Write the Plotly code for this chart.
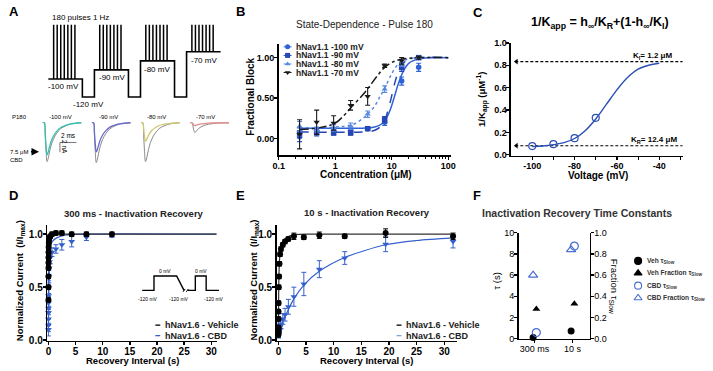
import plotly.graph_objects as go

W, H = 713, 371
FONT = "Liberation Sans, Arial, sans-serif"

# ---------------- Panel A (protocol + example traces) ----------------
hold_levels_mV = [-100, -90, -80, -70]
gap_level_mV = -120
pulse_top_mV = -40          # pulses drawn truncated
pulses_shown = 7
hold_s = 9.6
gap_s = 3.4
first_pulse_s = 1.5
pulse_interval_s = 1.0

trace_labels = ["-100 mV", "-90 mV", "-80 mV", "-70 mV"]
control_peak_nA = [8.0, 8.2, 8.0, 2.0]
cbd_peak_nA = [6.6, 6.0, 3.8, 0.6]
cbd_colors = ["#39c0ab", "#6b6bc9", "#cfc870", "#e68a8a"]
trace_spacing_ms = 6.0
wave_t_ms = [0, 0.2, 0.3, 0.4, 0.53, 0.65, 0.8, 1.0, 1.3, 1.7, 2.2, 2.8, 3.5, 4.7]
wave_frac = [0, 0, 0.3, 0.7, 1.0, 0.93, 0.78, 0.6, 0.42, 0.27, 0.15, 0.08, 0.03, 0]
scale_ms = 2
scale_nA = 2

# ---------------- Panel B ----------------
conc = [0.234, 0.469, 0.9375, 1.875, 3.75, 7.5, 15, 30]
block_100 = [0.02, 0.09, 0.09, 0.10, 0.12, 0.20, 0.71, 0.88]
err_100 = [0.06, 0.04, 0.04, 0.05, 0.02, 0.04, 0.05, 0.05]
block_90 = [0.07, 0.07, 0.07, 0.07, 0.12, 0.23, 0.88, 1.0]
err_90 = [0.06, 0.04, 0.03, 0.03, 0.02, 0.04, 0.05, 0.02]
block_80 = [0.15, 0.11, 0.13, 0.15, 0.30, 0.61, 0.92, 1.0]
err_80 = [0.06, 0.03, 0.04, 0.04, 0.04, 0.04, 0.03, 0.02]
block_70 = [0.05, 0.20, 0.19, 0.41, 0.52, 0.90, 0.96, 1.0]
err_70 = [0.18, 0.15, 0.09, 0.06, 0.11, 0.02, 0.04, 0.02]

fit_c_100 = [0.234, 1, 3, 5, 7, 9, 11, 13, 16, 20, 30, 50, 100]
fit_b_100 = [0.125, 0.125, 0.126, 0.14, 0.19, 0.32, 0.5, 0.67, 0.83, 0.93, 0.985, 1.0, 1.0]
fit_c_90 = [0.234, 3, 5, 7, 9, 11, 13, 16, 20, 30, 100]
fit_b_90 = [0.08, 0.08, 0.1, 0.18, 0.4, 0.65, 0.82, 0.93, 0.98, 1.0, 1.0]
fit_c_80 = [0.234, 1, 2, 3, 3.75, 5, 6, 7.5, 10, 13, 17, 25, 100]
fit_b_80 = [0.13, 0.14, 0.17, 0.24, 0.3, 0.4, 0.5, 0.62, 0.8, 0.92, 0.97, 0.995, 1.0]
fit_c_70 = [0.234, 0.5, 1, 1.5, 2, 3, 4, 5.5, 7.5, 10, 15, 30, 100]
fit_b_70 = [0.11, 0.13, 0.19, 0.3, 0.4, 0.53, 0.64, 0.77, 0.88, 0.94, 0.98, 1.0, 1.0]

# ---------------- Panel C ----------------
volt = [-100, -90, -80, -70]
inv_kapp = [0.077, 0.094, 0.148, 0.33]
fit_volt = [-100, -95, -90, -85, -80, -75, -70, -65, -60, -55, -50, -45, -40]
fit_inv = [0.072, 0.078, 0.09, 0.108, 0.145, 0.215, 0.32, 0.45, 0.58, 0.69, 0.765, 0.80, 0.818]
K_I = 1.2
K_R = 12.4

# ---------------- Panel D ----------------
t_D = [0.001, 0.002, 0.003, 0.005, 0.008, 0.013, 0.02, 0.04, 0.07, 0.12, 0.2, 0.35,
       0.65, 1.38, 2.47, 4.28, 7.0, 11.7]
veh_D = [0.38, 0.5, 0.6, 0.68, 0.73, 0.78, 0.83, 0.88, 0.92, 0.95, 0.97, 0.98,
         1.0, 1.01, 1.01, 1.0, 1.0, 1.0]
veh_D_err = [0.02] * 18
cbd_D = [0.1, 0.14, 0.2, 0.26, 0.3, 0.35, 0.42, 0.5, 0.6, 0.68, 0.74, 0.78,
         0.83, 0.86, 0.9, 0.93, 0.97, 0.99]
cbd_D_err = [0.06] * 12 + [0.04, 0.04, 0.05, 0.05, 0.03, 0.02]
fitD_veh_t = [0, 0.02, 0.05, 0.1, 0.2, 0.4, 1, 31]
fitD_veh_y = [0.4, 0.75, 0.9, 0.97, 0.995, 1.0, 1.0, 1.0]
fitD_cbd_t = [0, 0.05, 0.1, 0.2, 0.35, 0.7, 1.5, 3, 6, 31]
fitD_cbd_y = [0.1, 0.45, 0.65, 0.8, 0.88, 0.93, 0.965, 0.99, 1.0, 1.0]

# ---------------- Panel E ----------------
t_E = [0.001, 0.002, 0.003, 0.005, 0.008, 0.013, 0.02, 0.04, 0.07, 0.12, 0.2, 0.3,
       0.46, 0.8, 1.2, 1.8, 2.8, 4.6, 7.4, 12.0, 19.4, 31.6]
veh_E = [0.05, 0.06, 0.08, 0.1, 0.12, 0.2, 0.27, 0.35, 0.5, 0.6, 0.72, 0.81,
         0.86, 0.9, 0.93, 0.955, 0.98, 0.97, 0.99, 0.98, 1.01, 0.98]
veh_E_err = [0.02] * 16 + [0.03, 0.02, 0.03, 0.02, 0.04, 0.03]
cbd_E = [0.05, 0.06, 0.06, 0.07, 0.07, 0.08, 0.08, 0.09, 0.1, 0.11, 0.12, 0.13,
         0.15, 0.2, 0.24, 0.315, 0.41, 0.53, 0.67, 0.775, 0.905, 0.93]
cbd_E_err = [0.03] * 12 + [0.04, 0.05, 0.06, 0.07, 0.09, 0.11, 0.08, 0.06, 0.07, 0.06]
fitE_veh_t = [0, 0.05, 0.1, 0.2, 0.4, 0.8, 1.5, 3, 6, 31.6]
fitE_veh_y = [0.05, 0.45, 0.62, 0.76, 0.86, 0.93, 0.97, 0.995, 1.0, 1.0]
fitE_cbd_t = [0, 0.5, 1.2, 2.8, 4.6, 7.4, 12, 19.4, 25, 31.6]
fitE_cbd_y = [0.06, 0.13, 0.22, 0.39, 0.52, 0.65, 0.78, 0.9, 0.94, 0.965]

# inset protocol (D)
inset_levels_mV = [-120, 0, -120, 0, -120]
inset_durations = [12, 23, 19, 11, 13]

# ---------------- Panel F ----------------
f_cats = ["300 ms", "10 s"]
veh_tau = [0.12, 0.73]
veh_frac = [0.28, 0.33]
cbd_tau = [0.58, 8.74]
cbd_frac = [0.60, 0.84]

# ====================================================================
BLUE100, BLUE90, BLUE80, BLK = "#2f62d6", "#2546b5", "#5a88e0", "#1a1a1a"
CBD_BLUE = "#3560cc"


def xd(a, b):
    return [a / W, b / W]


def yd(top, bottom):
    return [1 - bottom / H, 1 - top / H]


def axstyle(**kw):
    base = dict(showline=True, linecolor="black", linewidth=1.6, ticks="outside",
                ticklen=3, tickwidth=1.4, tickcolor="black", showgrid=False,
                zeroline=False, mirror=False, fixedrange=True, ticklabelstandoff=-2,
                tickfont=dict(family=FONT, size=9, color="black", weight="bold"))
    base.update(kw)
    return base


def hidden(**kw):
    base = dict(visible=False, showgrid=False, zeroline=False, fixedrange=True,
                showticklabels=False, ticks="")
    base.update(kw)
    return base


anns = []


def ann(text, x, y, size=9, bold=False, xa="center", ya="middle", color="black", angle=0):
    anns.append(dict(text=text, x=x / W, y=1 - y / H, xref="paper", yref="paper",
                     showarrow=False, xanchor=xa, yanchor=ya, textangle=angle,
                     font=dict(family=FONT, size=size, color=color,
                               weight="bold" if bold else "normal")))


fig = go.Figure()

# ---------- A: protocol ----------
px_, py_ = [], []
pul_x, pul_y = [], []
for k, V in enumerate(hold_levels_mV):
    t0 = k * (hold_s + gap_s)
    if k > 0:
        px_.append(t0); py_.append(gap_level_mV)
    px_ += [t0, t0 + hold_s]; py_ += [V, V]
    if k < len(hold_levels_mV) - 1:
        px_ += [t0 + hold_s, t0 + hold_s + gap_s]; py_ += [gap_level_mV, gap_level_mV]
    for i in range(pulses_shown):
        tp = t0 + first_pulse_s + i * pulse_interval_s
        pul_x += [tp, tp, None]; pul_y += [V, pulse_top_mV, None]
fig.add_trace(go.Scatter(x=px_, y=py_, mode="lines", line=dict(color="black", width=1.6),
                         xaxis="x", yaxis="y", showlegend=False, hoverinfo="skip"))
fig.add_trace(go.Scatter(x=pul_x, y=pul_y, mode="lines", line=dict(color="black", width=1.5),
                         xaxis="x", yaxis="y", showlegend=False, hoverinfo="skip"))

# ---------- A: traces ----------
for k in range(4):
    t0 = k * trace_spacing_ms
    xs = [t0 + t for t in wave_t_ms]
    fig.add_trace(go.Scatter(x=xs, y=[-control_peak_nA[k] * f for f in wave_frac],
                             mode="lines", line=dict(color="#8a8a8a", width=1, shape="spline"),
                             xaxis="x2", yaxis="y2", showlegend=False, hoverinfo="skip"))
    fig.add_trace(go.Scatter(x=xs, y=[-cbd_peak_nA[k] * f for f in wave_frac],
                             mode="lines", line=dict(color=cbd_colors[k], width=1.3, shape="spline"),
                             xaxis="x2", yaxis="y2", showlegend=False, hoverinfo="skip"))
sb_x0, sb_y0 = 2.1, -4.06
fig.add_trace(go.Scatter(x=[sb_x0 + scale_ms, sb_x0, sb_x0], y=[sb_y0, sb_y0, sb_y0 - scale_nA],
                         mode="lines", line=dict(color="#777777", width=1),
                         xaxis="x2", yaxis="y2", showlegend=False, hoverinfo="skip"))

# ---------- B ----------
series_B = [
    (block_100, err_100, fit_c_100, fit_b_100, BLUE100, "circle", "solid"),
    (block_90, err_90, fit_c_90, fit_b_90, BLUE90, "square", "dash"),
    (block_80, err_80, fit_c_80, fit_b_80, BLUE80, "triangle-up", "dot"),
    (block_70, err_70, fit_c_70, fit_b_70, BLK, "triangle-down", "dashdot"),
]
for vals, errs, fc, fb, col, sym, dash in series_B:
    fig.add_trace(go.Scatter(x=fc, y=fb, mode="lines",
                             line=dict(color=col, width=1.5, dash=dash, shape="spline"),
                             xaxis="x3", yaxis="y3", showlegend=False, hoverinfo="skip"))
for vals, errs, fc, fb, col, sym, dash in series_B:
    fig.add_trace(go.Scatter(x=conc, y=vals, mode="markers",
                             marker=dict(color=col, symbol=sym, size=5.5),
                             error_y=dict(type="data", array=errs, color=col, thickness=1.1, width=2.5),
                             xaxis="x3", yaxis="y3", showlegend=False, cliponaxis=False))

# ---------- C ----------
for kval in [K_I, K_R]:
    fig.add_trace(go.Scatter(x=[-108, -29], y=[1 / kval, 1 / kval], mode="lines",
                             line=dict(color="black", width=1.1, dash="3px,2px"),
                             xaxis="x4", yaxis="y4", showlegend=False, hoverinfo="skip"))
    fig.add_trace(go.Scatter(x=[-107.5], y=[1 / kval], mode="markers",
                             marker=dict(symbol="triangle-left", color="black", size=5),
                             xaxis="x4", yaxis="y4", showlegend=False, hoverinfo="skip", cliponaxis=False))
fig.add_trace(go.Scatter(x=fit_volt, y=fit_inv, mode="lines",
                         line=dict(color="#2a4fb5", width=1.4, shape="spline"),
                         xaxis="x4", yaxis="y4", showlegend=False))
fig.add_trace(go.Scatter(x=volt, y=inv_kapp, mode="markers",
                         marker=dict(symbol="circle-open", color="#2a4fb5", size=7, line=dict(width=1.2)),
                         xaxis="x4", yaxis="y4", showlegend=False, cliponaxis=False))

# ---------- D ----------
fig.add_trace(go.Scatter(x=fitD_cbd_t, y=fitD_cbd_y, mode="lines",
                         line=dict(color=CBD_BLUE, width=1.2, shape="spline", smoothing=0.8),
                         xaxis="x5", yaxis="y5", showlegend=False, hoverinfo="skip"))
fig.add_trace(go.Scatter(x=fitD_veh_t, y=fitD_veh_y, mode="lines",
                         line=dict(color="#333333", width=1.2, shape="spline", smoothing=0.8),
                         xaxis="x5", yaxis="y5", showlegend=False, hoverinfo="skip"))
fig.add_trace(go.Scatter(x=t_D, y=cbd_D, mode="markers",
                         marker=dict(symbol="triangle-down", color=CBD_BLUE, size=6),
                         error_y=dict(type="data", array=cbd_D_err, color=CBD_BLUE, thickness=1, width=2.5),
                         xaxis="x5", yaxis="y5", showlegend=False, cliponaxis=False))
fig.add_trace(go.Scatter(x=t_D, y=veh_D, mode="markers",
                         marker=dict(symbol="circle", color="black", size=6),
                         error_y=dict(type="data", array=veh_D_err, color="black", thickness=1, width=2.5),
                         xaxis="x5", yaxis="y5", showlegend=False, cliponaxis=False))

# inset protocol
ix, iy = [], []
t = 0
for lvl, dur in zip(inset_levels_mV, inset_durations):
    ix += [t, t + dur]; iy += [lvl, lvl]
    t += dur
brk0 = inset_durations[0] + inset_durations[1]
brk_a, brk_b = brk0 + 7.5, brk0 + 11
seg_x = ix[:4] + [brk_a, None, brk_b] + ix[5:]
seg_y = iy[:4] + [iy[4], None, iy[5]] + iy[5:]
fig.add_trace(go.Scatter(x=seg_x, y=seg_y, mode="lines", line=dict(color="black", width=1.4),
                         xaxis="x10", yaxis="y10", showlegend=False, hoverinfo="skip"))
fig.add_trace(go.Scatter(x=[brk_a - 1, brk_a + 1.2, None, brk_b - 1.2, brk_b + 1],
                         y=[-132, -108, None, -132, -108], mode="lines",
                         line=dict(color="black", width=1), xaxis="x10", yaxis="y10",
                         showlegend=False, hoverinfo="skip"))

# ---------- E ----------
fig.add_trace(go.Scatter(x=fitE_cbd_t, y=fitE_cbd_y, mode="lines",
                         line=dict(color=CBD_BLUE, width=1.2, shape="spline", smoothing=0.8),
                         xaxis="x6", yaxis="y6", showlegend=False, hoverinfo="skip"))
fig.add_trace(go.Scatter(x=fitE_veh_t, y=fitE_veh_y, mode="lines",
                         line=dict(color="#333333", width=1.2, shape="spline", smoothing=0.8),
                         xaxis="x6", yaxis="y6", showlegend=False, hoverinfo="skip"))
fig.add_trace(go.Scatter(x=t_E, y=cbd_E, mode="markers",
                         marker=dict(symbol="triangle-down", color=CBD_BLUE, size=6),
                         error_y=dict(type="data", array=cbd_E_err, color=CBD_BLUE, thickness=1, width=2.5),
                         xaxis="x6", yaxis="y6", showlegend=False, cliponaxis=False))
fig.add_trace(go.Scatter(x=t_E, y=veh_E, mode="markers",
                         marker=dict(symbol="circle", color="black", size=6),
                         error_y=dict(type="data", array=veh_E_err, color="black", thickness=1, width=2.5),
                         xaxis="x6", yaxis="y6", showlegend=False, cliponaxis=False))

# ---------- F ----------
xi = list(range(len(f_cats)))
fig.add_trace(go.Scatter(x=[v - 0.035 for v in xi], y=veh_tau, mode="markers",
                         marker=dict(symbol="circle", color="black", size=7),
                         xaxis="x7", yaxis="y7", showlegend=False, cliponaxis=False))
fig.add_trace(go.Scatter(x=[v + 0.05 for v in xi], y=veh_frac, mode="markers",
                         marker=dict(symbol="triangle-up", color="black", size=7),
                         xaxis="x7", yaxis="y8", showlegend=False, cliponaxis=False))
fig.add_trace(go.Scatter(x=[v + 0.05 for v in xi], y=cbd_tau, mode="markers",
                         marker=dict(symbol="circle-open", color="#4a6fd0", size=8, line=dict(width=1.2)),
                         xaxis="x7", yaxis="y7", showlegend=False, cliponaxis=False))
fig.add_trace(go.Scatter(x=[v - 0.035 for v in xi], y=cbd_frac, mode="markers",
                         marker=dict(symbol="triangle-up-open", color="#4a6fd0", size=8, line=dict(width=1.2)),
                         xaxis="x7", yaxis="y8", showlegend=False, cliponaxis=False))

# ---------- manual legends (overlay, pixel space) ----------
legB = [("hNav1.1 -100 mV", BLUE100, "circle", "solid"),
        ("hNav1.1 -90 mV", BLUE90, "square", "dash"),
        ("hNav1.1 -80 mV", BLUE80, "triangle-up", "dot"),
        ("hNav1.1 -70 mV", BLK, "triangle-down", "dashdot")]
for i, (lab, col, sym, dash) in enumerate(legB):
    yy = 43 + i * 8.8
    fig.add_trace(go.Scatter(x=[282, 290], y=[yy, yy], mode="lines", line=dict(color=col, width=1),
                             xaxis="x9", yaxis="y9", showlegend=False, hoverinfo="skip"))
    fig.add_trace(go.Scatter(x=[286], y=[yy], mode="markers", marker=dict(color=col, symbol=sym, size=5),
                             xaxis="x9", yaxis="y9", showlegend=False, hoverinfo="skip"))
    ann(lab, 293, yy, size=8.5, bold=True, xa="left", color="#222222")

for (x0, items) in [(151.7, [("hNav1.6 - Vehicle", "black"), ("hNav1.6 - CBD", CBD_BLUE)]),
                    (396.7, [("hNav1.6 - Vehicle", "black"), ("hNav1.6 - CBD", "#7ea2e6")])]:
    for i, (lab, col) in enumerate(items):
        yy = 329 + i * 10.8
        fig.add_trace(go.Scatter(x=[x0, x0 + 5], y=[yy, yy], mode="lines", line=dict(color=col, width=1.3),
                                 xaxis="x9", yaxis="y9", showlegend=False, hoverinfo="skip"))
        ann(lab, x0 + 8, yy, size=9, bold=True, xa="left", color="#222222")

legF = [("Veh τ<sub>Slow</sub>", "circle", "black"),
        ("Veh Fraction τ<sub>Slow</sub>", "triangle-up", "black"),
        ("CBD τ<sub>Slow</sub>", "circle-open", "#4a6fd0"),
        ("CBD Fraction τ<sub>Slow</sub>", "triangle-up-open", "#4a6fd0")]
for i, (lab, sym, col) in enumerate(legF):
    yy = 263 + i * 12.7
    fig.add_trace(go.Scatter(x=[642], y=[yy], mode="markers",
                             marker=dict(symbol=sym, color=col, size=7, line=dict(width=1.1, color=col)),
                             xaxis="x9", yaxis="y9", showlegend=False, hoverinfo="skip"))
    ann(lab, 649, yy, size=6.6, bold=True, xa="left", color="#333333")

# ---------- texts ----------
for L, x, y in [("A", 1, 7), ("B", 232, 7), ("C", 472, 8), ("D", 1, 196), ("E", 232, 196), ("F", 472, 196)]:
    ann(L, x, y, size=13, bold=True, xa="left")

ann("180 pulses 1 Hz", 45, 13, size=8, xa="left")
for lab, x, y in [("-100 mV", 58, 84), ("-120 mV", 84, 102), ("-90 mV", 107.5, 75),
                  ("-80 mV", 153, 66), ("-70 mV", 201.5, 57)]:
    ann(lab, x, y, size=8)
ann("P180", 14, 115.5, size=6)
for lab, x in zip(trace_labels, [55, 104, 153, 203]):
    ann(lab, x, 115.5, size=6)
ann("2 ms", 63.5, 134, size=6.5)
ann("2 nA", 60, 146, size=6.5, angle=90)
ann("7.5 μM", 2, 151, size=6, xa="left")
ann("CBD", 2, 159, size=6, xa="left")
anns.append(dict(x=33.5 / W, y=1 - 150.7 / H, ax=-9.5, ay=0, xref="paper", yref="paper",
                 axref="pixel", ayref="pixel", showarrow=True, arrowhead=2, arrowsize=1,
                 arrowwidth=1.5, arrowcolor="black", text=""))

ann("State-Dependence - Pulse 180", 364, 20, size=10, color="#222222")
ann("Fractional Block", 248, 94, size=10, bold=True, angle=-90)
ann("Concentration (μM)", 366, 174, size=10, bold=True)

ann("1/K<sub>app</sub> = h<sub>∞</sub>/K<sub>R</sub>+(1-h<sub>∞</sub>/K<sub>I</sub>)", 603, 19, size=12.5, bold=True)
ann("1/K<sub>app</sub> (μM<sup>-1</sup>)", 484, 97, size=9.5, bold=True, angle=-90)
ann("Voltage (mV)", 601, 175, size=10, bold=True)
ann("K<sub>I</sub>= 1.2 μM", 635, 52, size=8, bold=True, xa="left")
ann("K<sub>R</sub>= 12.4 μM", 633, 139, size=8, bold=True, xa="left")

ann("300 ms - Inactivation Recovery", 130, 214, size=9.5, bold=True, color="#222222")
ann("Normalized Current  (I/I<sub>max</sub>)", 15, 283, size=9.5, bold=True, angle=-90)
ann("Recovery Interval (s)", 128, 365.5, size=9.5, bold=True)
for lab, x in [("0 mV", 161.7), ("0 mV", 198.3)]:
    ann(lab, x, 273, size=5)
for x in [144, 176, 211.7]:
    ann("-120 mV", x, 302, size=5)

ann("10 s - Inactivation Recovery", 367, 213, size=9.5, bold=True, color="#222222")
ann("Normalized Current  (I/I<sub>max</sub>)", 252, 283, size=9.5, bold=True, angle=-90)
ann("Recovery Interval (s)", 366, 365.5, size=9.5, bold=True)

ann("Inactivation Recovery Time Constants", 481, 214, size=10.5, bold=True, xa="left", color="#333333")
ann("τ (s)", 498, 284, size=9.5, angle=-90)
ann("Fraction τ<sub>Slow</sub>", 617, 289, size=9.5, angle=90)

# ---------- layout ----------
tick9 = dict(family=FONT, size=9, color="black", weight="bold")
tick10 = dict(family=FONT, size=10, color="black", weight="bold")
tickF = dict(family=FONT, size=9, color="black")
fig.update_layout(
    width=W, height=H, margin=dict(l=0, r=0, t=0, b=0),
    paper_bgcolor="white", plot_bgcolor="rgba(0,0,0,0)", showlegend=False,
    annotations=anns,
    xaxis=hidden(domain=xd(40, 222), range=[-0.833, 49.72], anchor="y"),
    yaxis=hidden(domain=yd(15, 106), range=[-132.3, -34.4], anchor="x"),
    xaxis2=hidden(domain=xd(30, 235), range=[-0.876, 23.73], anchor="y2"),
    yaxis2=hidden(domain=yd(112, 170), range=[-9.8, 1.8], anchor="x2"),
    xaxis3=axstyle(type="log", domain=xd(277, 452), range=[-1, 2.05], anchor="y3",
                   tickvals=[0.1, 1, 10, 100], ticktext=["0.1", "1", "10", "100"], tickfont=tick9,
                   minor=dict(ticks="outside", ticklen=2.5, tickwidth=1, tickcolor="black",
                              tickvals=[0.2, 0.3, 0.4, 0.5, 0.6, 0.7, 0.8, 0.9, 2, 3, 4, 5, 6, 7, 8, 9,
                                        20, 30, 40, 50, 60, 70, 80, 90])),
    yaxis3=axstyle(domain=yd(40, 154.5), range=[-0.21, 1.17], anchor="x3",
                   tickvals=[0, 0.5, 1.0], ticktext=["0.00", "0.50", "1.00"], tickfont=tick9),
    xaxis4=axstyle(domain=xd(513, 688), range=[-110, -28.6], anchor="y4",
                   tickvals=[-100, -80, -60, -40], ticktext=["-100", "-80", "-60", "-40"], tickfont=tick9,
                   minor=dict(ticks="outside", ticklen=2.5, tickwidth=1, tickcolor="black",
                              tickvals=[-90, -70, -50, -30])),
    yaxis4=axstyle(domain=yd(39, 155), range=[-0.01, 1.0], anchor="x4",
                   tickvals=[0, 0.2, 0.4, 0.6, 0.8, 1.0],
                   ticktext=["0.0", "0.2", "0.4", "0.6", "0.8", "1.0"], tickfont=tick9),
    xaxis5=axstyle(domain=xd(42, 214), range=[-0.2, 31], anchor="y5",
                   tickvals=[0, 5, 10, 15, 20, 25, 30], tickfont=tick10),
    yaxis5=axstyle(domain=yd(225.7, 345), range=[-0.005, 1.09], anchor="x5",
                   tickvals=[0, 0.5, 1.0], ticktext=["0.0", "0.5", "1.0"], tickfont=tick10),
    xaxis6=axstyle(domain=xd(275, 458), range=[-0.3, 32.3], anchor="y6",
                   tickvals=[0, 5, 10, 15, 20, 25, 30], tickfont=tick10),
    yaxis6=axstyle(domain=yd(225.7, 345), range=[-0.005, 1.09], anchor="x6",
                   tickvals=[0, 0.5, 1.0], ticktext=["0.0", "0.5", "1.0"], tickfont=tick10),
    xaxis7=axstyle(domain=xd(520.7, 593), range=[-0.415, 1.458], anchor="y7",
                   tickvals=xi, ticktext=f_cats, tickfont=tickF),
    yaxis7=axstyle(domain=yd(234, 343), range=[0, 10], anchor="x7",
                   tickvals=[0, 2, 4, 6, 8, 10], tickfont=tickF),
    yaxis8=axstyle(domain=yd(234, 343), range=[0, 1], anchor="x7", overlaying="y7", side="right",
                   tickvals=[0, 0.2, 0.4, 0.6, 0.8, 1.0],
                   ticktext=["0.0", "0.2", "0.4", "0.6", "0.8", "1.0"], tickfont=tickF),
    xaxis9=hidden(domain=[0, 1], range=[0, W], anchor="y9"),
    yaxis9=hidden(domain=[0, 1], range=[H, 0], anchor="x9"),
    xaxis10=hidden(domain=xd(136, 220), range=[-2.3, 81.7], anchor="y10"),
    yaxis10=hidden(domain=yd(276, 296), range=[-141.9, 20.3], anchor="x10"),
)

fig.write_html("out.html", config={"displayModeBar": False, "staticPlot": True},
               post_script="document.body.style.margin='0';document.body.style.padding='0';"
                           "document.body.style.overflow='hidden';")
